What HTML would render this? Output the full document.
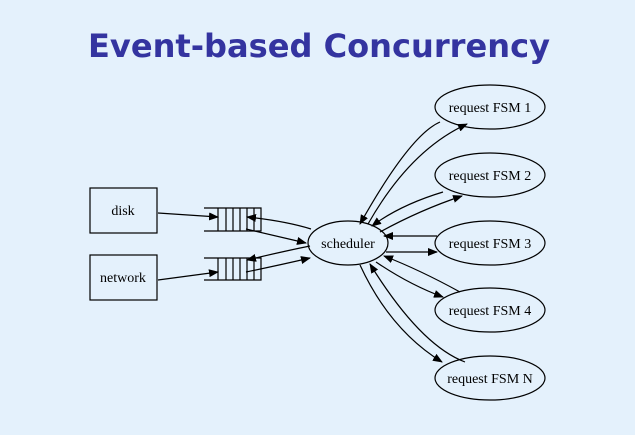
<!DOCTYPE html>
<html><head><style>
body{margin:0;background:#e4f1fc;overflow:hidden;}
</style></head><body>
<svg width="635" height="435" viewBox="0 0 635 435" xmlns="http://www.w3.org/2000/svg" style="display:block">
<defs><marker id="a" markerWidth="10" markerHeight="8" refX="9" refY="4" orient="auto" markerUnits="userSpaceOnUse"><path d="M0,0 L10,4 L0,8 z" fill="#000"/></marker></defs>
<rect width="635" height="435" fill="#e4f1fc"/>
<text x="319" y="57" text-anchor="middle" font-family="'DejaVu Sans',sans-serif" font-weight="bold" font-size="32" fill="#3434a0" textLength="462" lengthAdjust="spacingAndGlyphs">Event-based  Concurrency</text>
<g font-family="'Liberation Serif',serif" font-size="14" fill="#000" stroke="none">
<text x="123" y="215" text-anchor="middle">disk</text>
<text x="123" y="282" text-anchor="middle">network</text>
<text x="348" y="248" text-anchor="middle">scheduler</text>
<text x="490" y="112" text-anchor="middle">request FSM 1</text>
<text x="490" y="180" text-anchor="middle">request FSM 2</text>
<text x="490" y="248" text-anchor="middle">request FSM 3</text>
<text x="490" y="315" text-anchor="middle">request FSM 4</text>
<text x="490" y="383" text-anchor="middle">request FSM N</text>
</g>
<g fill="none" stroke="#000" stroke-width="1.2">
<rect x="90" y="188" width="67" height="45"/>
<rect x="90" y="255" width="67" height="45"/>
<ellipse cx="348" cy="243" rx="40" ry="22"/>
<ellipse cx="490" cy="107" rx="55" ry="22"/>
<ellipse cx="490" cy="175" rx="55" ry="22"/>
<ellipse cx="490" cy="243" rx="55" ry="22"/>
<ellipse cx="490" cy="310" rx="55" ry="22"/>
<ellipse cx="490" cy="378" rx="55" ry="22"/>
<path d="M204,208H261V231H204M218,208V231M226,208V231M233,208V231M240,208V231M247,208V231M254,208V231"/>
<path d="M204,258H261V280H204M218,258V280M226,258V280M233,258V280M240,258V280M247,258V280M254,258V280"/>
</g>
<g fill="none" stroke="#000" stroke-width="1.2" marker-end="url(#a)">
<path d="M158,213 L218,217"/>
<path d="M158,280 L218,272"/>
<path d="M311,229 Q285,221 247,217"/>
<path d="M246,229 L306,243"/>
<path d="M310,246 Q285,251 247,260"/>
<path d="M246,272 Q280,265 310,258"/>
<path d="M440,122 Q410,135 360,224"/>
<path d="M368,224 Q410,150 467,124"/>
<path d="M443,192 Q400,205 372,226"/>
<path d="M380,232 Q420,210 462,196"/>
<path d="M437,236 L384,236"/>
<path d="M386,252 L437,252"/>
<path d="M460,292 Q420,270 384,256"/>
<path d="M376,262 Q410,285 443,297"/>
<path d="M465,362 Q420,345 370,264"/>
<path d="M360,265 Q390,330 442,362"/>
</g>
</svg>
</body></html>
